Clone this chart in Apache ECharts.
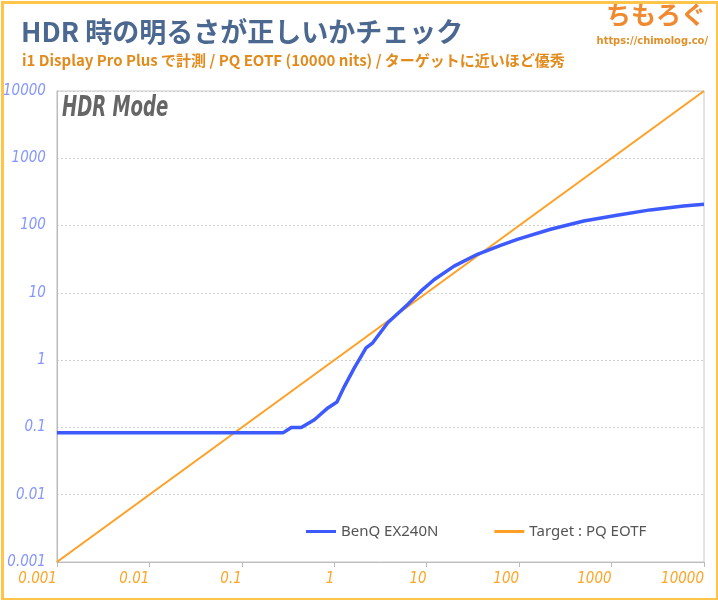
<!DOCTYPE html>
<html><head><meta charset="utf-8">
<script src="https://cdn.jsdelivr.net/npm/echarts@6/dist/echarts.min.js"></script>
<style>html,body{margin:0;padding:0;background:#fff}#c{width:718px;height:600px}</style>
</head><body><div id="c"></div>
<script>
const titleText = 'HDR 時の明るさが正しいかチェック';
const subtitleText = 'i1 Display Pro Plus で計測 / PQ EOTF (10000 nits) / ターゲットに近いほど優秀';
const modeText = 'HDR Mode';
const seriesNames = ['BenQ EX240N', 'Target : PQ EOTF'];
const xTickLabels = ['0.001','0.01','0.1','1','10','100','1000','10000'];
const yTickLabels = ['0.001','0.01','0.1','1','10','100','1000','10000'];
const benqX = [0.001, 0.279, 0.343, 0.44, 0.61, 0.853, 1.07, 1.29, 1.65, 2.21, 2.61, 3.79, 6.22, 9.03, 12.1, 19.8, 35.4, 63.1, 95.6, 219, 500, 1146, 2620, 6000, 10000];
const benqY = [0.083, 0.083, 0.1, 0.1, 0.130, 0.195, 0.239, 0.408, 0.767, 1.52, 1.81, 3.59, 6.73, 11.2, 15.8, 25.0, 37.4, 50.9, 62.5, 88.1, 117, 142, 171, 196, 207];
const targetX = [0.001, 10000];
const targetY = [0.001, 10000];

const chart = echarts.init(document.getElementById('c'), null, {renderer:'canvas'});
const idx = v => Math.round(Math.log10(v)) + 3;
const tickFont = {fontFamily:'DejaVu Sans Condensed', fontStyle:'italic', fontSize:15};
chart.setOption({
  backgroundColor:'#fff',
  animation:false,
  title:[
    {text:titleText, left:16, top:13, textStyle:{fontFamily:'Noto Sans CJK JP', fontWeight:'bold', fontSize:27, color:'#4b6890'}},
    {text:subtitleText, left:17, top:48, textStyle:{fontFamily:'Noto Sans CJK JP', fontWeight:'bold', fontSize:15, color:'#e28b1c'}}
  ],
  grid:{left:55, right:14, top:91, bottom:38, show:true, borderColor:'#c8c8c8', borderWidth:1, backgroundColor:'#fff'},
  legend:{
    left:301, top:519, itemWidth:30, itemHeight:3, itemGap:56, icon:'rect',
    textStyle:{fontFamily:'Noto Sans', fontSize:15, color:'#555'},
    data:seriesNames
  },
  xAxis:{
    type:'log', logBase:10, min:0.001, max:10000,
    axisLine:{show:true, lineStyle:{color:'#bbb'}},
    axisTick:{show:true, length:5, lineStyle:{color:'#bbb'}},
    splitLine:{show:false},
    minorTick:{show:false},
    axisLabel:Object.assign({color:'#ffa526', margin:10, align:'right', formatter:v=>xTickLabels[idx(v)]}, tickFont)
  },
  yAxis:{
    type:'log', logBase:10, min:0.001, max:10000,
    axisLine:{show:true, lineStyle:{color:'#bbb'}},
    axisTick:{show:false},
    splitLine:{show:true, lineStyle:{color:'#cfcfcf', type:[2,2], width:1}},
    axisLabel:Object.assign({color:'#8596ff', margin:11, formatter:v=>yTickLabels[idx(v)]}, tickFont)
  },
  graphic:[
    {type:'text', x:62, y:95, scaleX:0.72, style:{text:modeText, font:'italic bold 28px "DejaVu Sans Condensed"', fill:'#666'}},
    {type:'text', right:12, top:2, style:{text:'ちもろぐ', font:'bold 25px "Noto Sans CJK JP"', fill:'#f08a30'}},
    {type:'text', right:10, top:36, style:{text:'https://chimolog.co/', font:'bold 11px "DejaVu Sans Condensed"', fill:'#e0902a'}},
    {type:'rect', left:0, top:0, shape:{x:1.5, y:1.5, width:715, height:597}, style:{fill:null, stroke:'#ffc54a', lineWidth:3}, z:100}
  ],
  series:[
    {name:seriesNames[0], type:'line', showSymbol:false, smooth:false, z:3,
     lineStyle:{color:'#3d5afe', width:3.5}, itemStyle:{color:'#3d5afe'},
     data:benqX.map((x,i)=>[x, benqY[i]])},
    {name:seriesNames[1], type:'line', showSymbol:false, z:2,
     lineStyle:{color:'#ffa024', width:2}, itemStyle:{color:'#ffa024'},
     data:targetX.map((x,i)=>[x, targetY[i]])}
  ]
});
</script></body></html>
